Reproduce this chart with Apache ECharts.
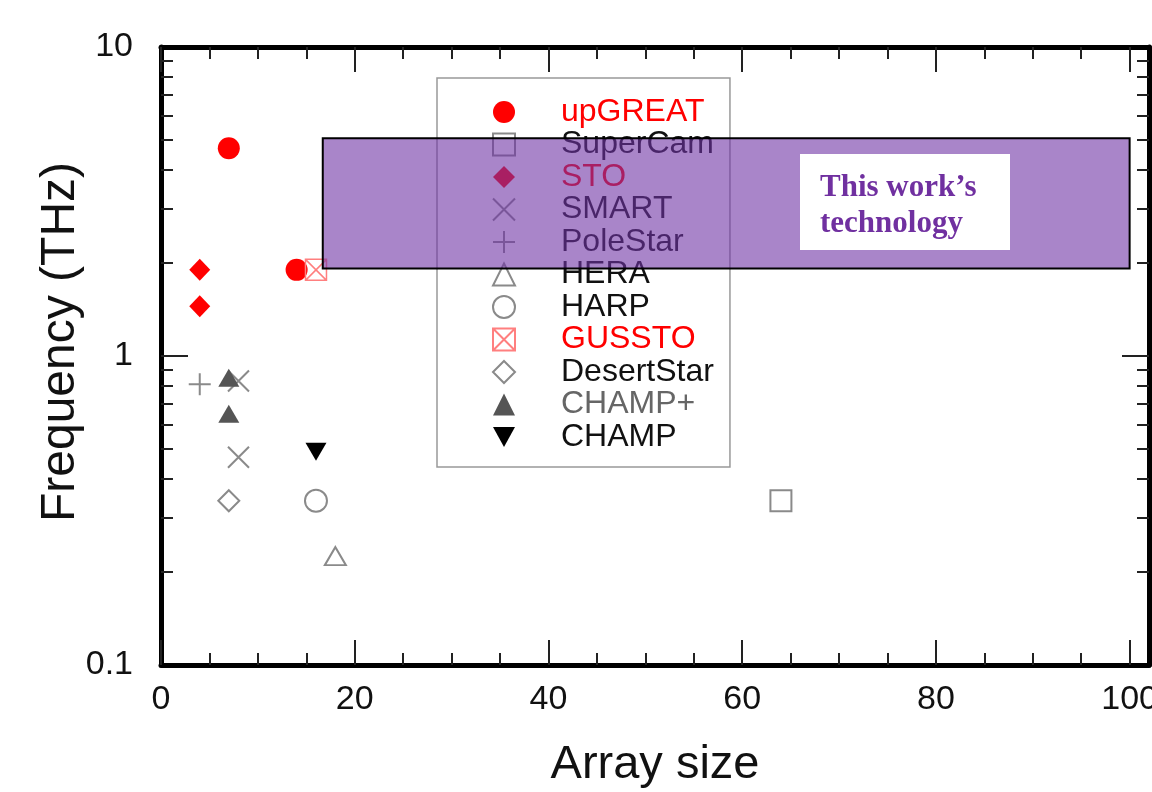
<!DOCTYPE html>
<html>
<head>
<meta charset="utf-8">
<script src="https://cdn.jsdelivr.net/npm/echarts@6/dist/echarts.min.js"></script>
<style>
    html, body { margin: 0; padding: 0; background: #fff; }
    #chart { width: 1152px; height: 792px; }
</style>
</head>
<body>
<div id="chart"></div>
<script>
// tick positions
var xMajor = [0, 20, 40, 60, 80, 100];
var xMinor = [5, 10, 15, 25, 30, 35, 45, 50, 55, 65, 70, 75, 85, 90, 95];
var yMajor = [0.1, 1, 10];
var yMinor = [0.2, 0.3, 0.4, 0.5, 0.6, 0.7, 0.8, 0.9, 2, 3, 4, 5, 6, 7, 8, 9];

// instruments: [array size, frequency THz]
var upGREAT = [[7, 4.7], [14, 1.9]];
var SuperCam = [[64, 0.34]];
var STO = [[4, 1.9], [4, 1.45]];
var SMART = [[8, 0.83], [8, 0.47]];
var PoleStar = [[4, 0.81]];
var HERA = [[18, 0.225]];
var HARP = [[16, 0.34]];
var GUSSTO = [[16, 1.9]];
var DesertStar = [[7, 0.34]];
var CHAMPplus = [[7, 0.85], [7, 0.65]];
var CHAMP = [[16, 0.49]];

// "this work" band: x from..to, frequency from..to
var bandX = [16.7, 100];
var bandY = [1.92, 5.07];

var names = ['upGREAT', 'SuperCam', 'STO', 'SMART', 'PoleStar', 'HERA', 'HARP', 'GUSSTO', 'DesertStar', 'CHAMP+', 'CHAMP'];
var nameColors = ['#ff0000', '#111', '#ff0000', '#111', '#111', '#111', '#111', '#ff0000', '#111', '#666', '#111'];

var chart = echarts.init(document.getElementById('chart'));
var font = 'Liberation Sans, Arial, Helvetica, sans-serif';

function xAx(pos, ticks, len, main) {
    return {
        type: 'value', min: 0, max: 102, position: pos,
        name: main ? 'Array size' : '',
        nameLocation: 'middle', nameGap: 77, nameMoveOverlap: false,
        nameTextStyle: { fontSize: 47, color: '#111', fontFamily: font },
        axisLine: { show: len > 20, onZero: false, lineStyle: { color: '#000', width: 5 } },
        axisTick: { show: true, inside: true, length: len, customValues: ticks, lineStyle: { color: '#222', width: 2 } },
        axisLabel: { show: !!main, customValues: xMajor, fontSize: 34, margin: 18, color: '#111', fontFamily: font },
        splitLine: { show: false }
    };
}
function yAx(pos, ticks, len, main) {
    return {
        type: 'log', logBase: 10, min: 0.1, max: 10, position: pos,
        name: main ? 'Frequency (THz)' : '',
        nameLocation: 'middle', nameGap: 76, nameMoveOverlap: false,
        nameTextStyle: { fontSize: 48, color: '#111', fontFamily: font, padding: [0, 0, 0, 28] },
        axisLine: { show: len > 20, onZero: false, lineStyle: { color: '#000', width: 5 } },
        axisTick: { show: true, inside: true, length: len, customValues: ticks, lineStyle: { color: '#222', width: 2 } },
        axisLabel: { show: !!main, customValues: yMajor, fontSize: 34, margin: 28, color: '#111', fontFamily: font },
        splitLine: { show: false }
    };
}

var gray = '#8a8a8a';
var series = [
    { name: 'upGREAT', data: upGREAT, symbol: 'circle', symbolSize: 22, itemStyle: { color: '#ff0000' } },
    { name: 'SuperCam', data: SuperCam, symbol: 'rect', symbolSize: 21, itemStyle: { color: 'transparent', borderColor: gray, borderWidth: 2 } },
    { name: 'STO', data: STO, symbol: 'diamond', symbolSize: [21, 22], itemStyle: { color: '#ff0000' } },
    { name: 'SMART', data: SMART, symbol: 'path://M0,0L10,10M10,0L0,10', symbolSize: 21, itemStyle: { color: 'transparent', borderColor: gray, borderWidth: 2 } },
    { name: 'PoleStar', data: PoleStar, symbol: 'path://M5,0L5,10M0,5L10,5', symbolSize: 22, itemStyle: { color: 'transparent', borderColor: gray, borderWidth: 2 } },
    { name: 'HERA', data: HERA, symbol: 'triangle', symbolSize: [21, 18], itemStyle: { color: 'transparent', borderColor: gray, borderWidth: 2 } },
    { name: 'HARP', data: HARP, symbol: 'circle', symbolSize: 22, itemStyle: { color: 'transparent', borderColor: gray, borderWidth: 2 } },
    { name: 'GUSSTO', data: GUSSTO, symbol: 'path://M0,0L10,0L10,10L0,10ZM0,0L10,10M10,0L0,10', symbolSize: 21, itemStyle: { color: 'transparent', borderColor: '#ff7f7f', borderWidth: 1.5 } },
    { name: 'DesertStar', data: DesertStar, symbol: 'diamond', symbolSize: 21, itemStyle: { color: 'transparent', borderColor: gray, borderWidth: 2 } },
    { name: 'CHAMP+', data: CHAMPplus, symbol: 'triangle', symbolSize: [21, 18], itemStyle: { color: '#555' } },
    { name: 'CHAMP', data: CHAMP, symbol: 'path://M0,0L10,0L5,9Z', symbolSize: [21, 18], itemStyle: { color: '#000' } }
];
series.forEach(function (s) {
    s.type = 'scatter';
    s.xAxisIndex = 0;
    s.yAxisIndex = 0;
    s.silent = true;
    s.itemStyle.opacity = 1;
});
// band drawn above the legend
series.push({
    name: 'band', type: 'scatter', data: [], xAxisIndex: 0, yAxisIndex: 0, silent: true,
    markArea: {
        silent: true, z: 10,
        itemStyle: { color: 'rgba(112, 52, 165, 0.6)', borderColor: '#000', borderWidth: 2 },
        data: [[{ coord: [bandX[0], bandY[0]] }, { coord: [bandX[1], bandY[1]] }]]
    }
});

var option = {
    animation: false,
    textStyle: { fontFamily: font },
    grid: { left: 161, right: 3, top: 47, bottom: 127, containLabel: false, outerBoundsMode: 'none' },
    xAxis: [
        xAx('bottom', xMajor, 25, true),
        xAx('bottom', xMinor, 12, false),
        xAx('top', xMajor, 25, false),
        xAx('top', xMinor, 12, false)
    ],
    yAxis: [
        yAx('left', [1], 27, true),
        yAx('left', yMinor, 12, false),
        yAx('right', [1], 27, false),
        yAx('right', yMinor, 12, false)
    ],
    legend: {
        orient: 'vertical', left: 437, top: 78,
        padding: [18, 16, 14, 55],
        itemWidth: 22, itemHeight: 22, itemGap: 0.5,
        borderColor: '#999', borderWidth: 1.5,
        selectedMode: false,
        textStyle: { fontSize: 32, fontFamily: font, padding: [0, 0, 0, 41] },
        data: names.map(function (n, i) {
            return { name: n, textStyle: { color: nameColors[i], padding: [0, 0, 0, 41] } };
        })
    },
    graphic: [
        {
            type: 'group', left: 800, top: 154, z: 100,
            children: [
                { type: 'rect', z: 100, shape: { x: 0, y: 0, width: 210, height: 96 }, style: { fill: '#fff' } },
                { type: 'text', z: 101, x: 20, y: 16, style: { text: 'This work’s\ntechnology', fill: '#7030a0', font: 'bold 31px "Liberation Serif", "Times New Roman", serif', lineHeight: 36 } }
            ]
        }
    ],
    series: series
};
chart.setOption(option);
</script>
</body>
</html>
